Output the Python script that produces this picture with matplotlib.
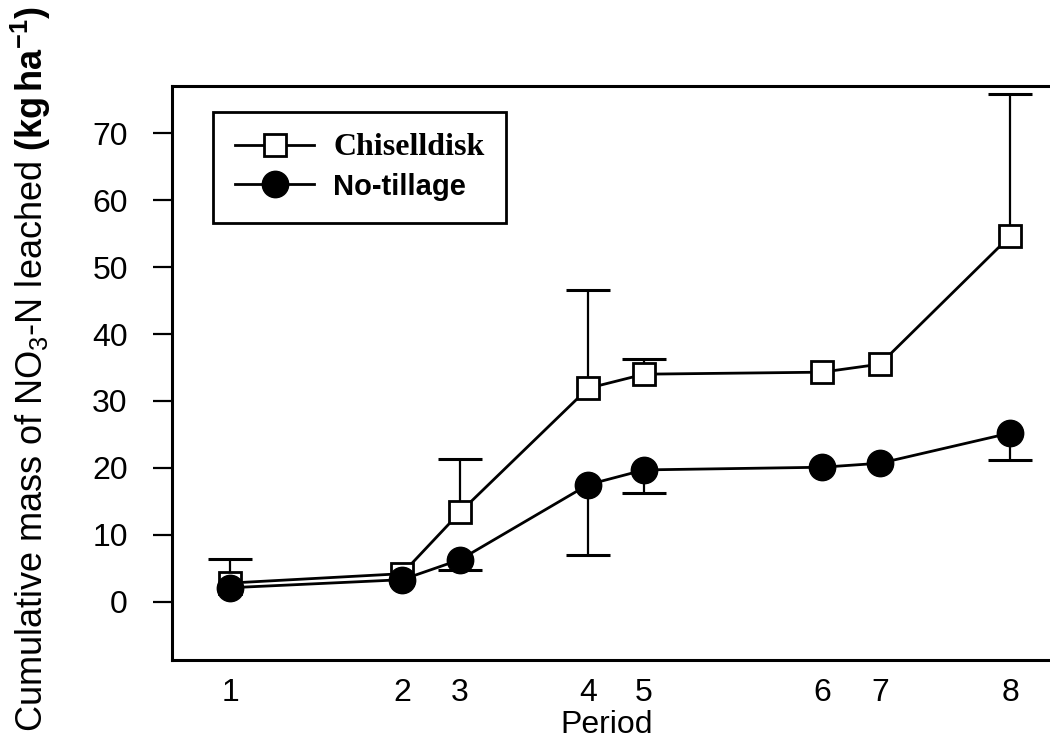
import numpy as np
import matplotlib
matplotlib.use("Agg")
import matplotlib.pyplot as plt

plt.rcParams['font.family'] = ['Liberation Sans', 'DejaVu Sans']
plt.rcParams['mathtext.fontset'] = 'custom'
plt.rcParams['mathtext.rm'] = 'Liberation Sans'
plt.rcParams['mathtext.it'] = 'Liberation Sans:italic'
plt.rcParams['mathtext.bf'] = 'Liberation Sans:bold'

# sampling position of each period (irregular spacing on the x axis)
period_pos = [5.8, 23.0, 28.8, 41.6, 47.2, 65.0, 70.8, 83.8]
period_labels = ['1', '2', '3', '4', '5', '6', '7', '8']

# cumulative NO3-N leached (kg/ha)
chisel = [2.8, 4.2, 13.4, 31.9, 34.0, 34.3, 35.5, 54.6]
chisel_err_up = [3.6, 0, 7.9, 14.7, 2.3, 0, 0, 21.2]
notill = [2.1, 3.3, 6.3, 17.5, 19.7, 20.1, 20.7, 25.2]
notill_err_dn = [0, 0, 1.5, 10.5, 3.4, 0, 0, 4.0]

yticks = [0, 10, 20, 30, 40, 50, 60, 70]

fig = plt.figure(figsize=(10.5, 7.48), dpi=100)
ax = fig.add_axes([0.164, 0.1176, 0.836, 0.767])

x = np.array(period_pos)

# one-sided error bars, only where an error was drawn
c = np.array(chisel)
ce = np.array(chisel_err_up)
m = ce > 0
eb = ax.errorbar(x[m], c[m], yerr=[np.zeros(m.sum()), ce[m]], fmt='none',
                 ecolor='black', elinewidth=1.6, capsize=16, capthick=2.2, zorder=1)
eb[1][0].set_visible(False)

n = np.array(notill)
ne = np.array(notill_err_dn)
m = ne > 0
eb = ax.errorbar(x[m], n[m], yerr=[ne[m], np.zeros(m.sum())], fmt='none',
                 ecolor='black', elinewidth=1.6, capsize=16, capthick=2.2, zorder=1)
eb[1][1].set_visible(False)

ax.plot(x, chisel, color='black', lw=2, marker='s', markersize=16,
        markerfacecolor='white', markeredgecolor='black', markeredgewidth=2,
        label='Chiselldisk', zorder=3)
ax.plot(x, notill, color='black', lw=2, marker='o', markersize=19,
        markerfacecolor='black', markeredgecolor='black',
        label='No-tillage', zorder=4)

ax.set_xlim(0, 87.8)
ax.set_ylim(-8.7, 77.0)
ax.set_xticks(x)
ax.set_xticklabels(period_labels)
ax.set_yticks(yticks)
ax.tick_params(axis='x', length=0, pad=13, labelsize=23)
ax.tick_params(axis='y', length=14, width=1.6, pad=18, labelsize=23, direction='out')

for s in ['left', 'top', 'bottom']:
    ax.spines[s].set_linewidth(2.2)
ax.spines['right'].set_visible(False)

ax.set_xlabel('Period', fontsize=23)
ax.xaxis.set_label_coords(0.495, -0.087)
ax.set_ylabel(r'Cumulative mass of NO$_3$-N leached $\mathbf{(kg\,ha^{-1})}$', fontsize=26)
ax.yaxis.set_label_coords(-0.136, 0.507)

leg = ax.legend(loc='upper left', bbox_to_anchor=(0.047, 0.956), frameon=True,
                fancybox=False, edgecolor='black', framealpha=1, fontsize=21,
                handlelength=2.7, handletextpad=0.65, labelspacing=0.35,
                borderpad=0.75, borderaxespad=0)
leg.get_frame().set_linewidth(2)
t1, t2 = leg.get_texts()
t1.set_fontfamily('Liberation Serif')
t1.set_fontweight('bold')
t1.set_fontsize(23)
t2.set_fontweight('bold')

fig.savefig('out.png', dpi=100)
